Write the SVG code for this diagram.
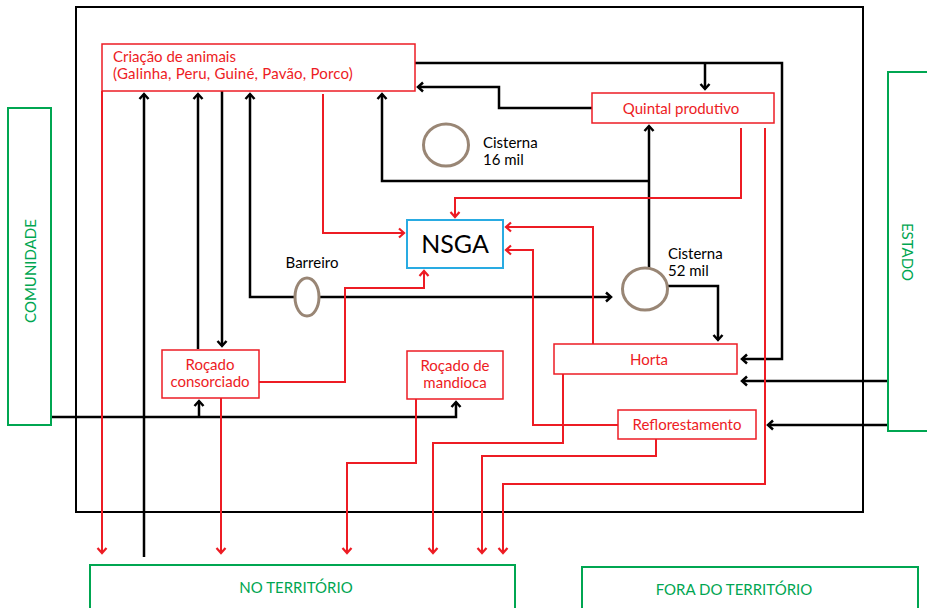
<svg xmlns="http://www.w3.org/2000/svg" width="927" height="608" viewBox="0 0 927 608">
<style>
.bk{fill:none;stroke:#000;stroke-width:2.5}
.rd{fill:none;stroke:#ed1c24;stroke-width:2}
.box{fill:#fff;stroke:#ed1c24;stroke-width:1.5}
.gbox{fill:#fff;stroke:#00a651;stroke-width:2}
.t{font-family:Lato,"Liberation Sans",sans-serif;font-size:15px}
.rt{fill:#ed1c24}
.gt{fill:#00a651}
.cis{fill:#fff;stroke:#998675;stroke-width:3}
</style>
<defs>
<marker id="ab" viewBox="-7 -6 9 12" refX="0" refY="0" markerWidth="9" markerHeight="12" markerUnits="userSpaceOnUse" orient="auto-start-reverse"><path d="M-5,-4.5 L0,0 L-5,4.5" fill="none" stroke="#000" stroke-width="2.5"/></marker>
<marker id="ar" viewBox="-7 -6 9 12" refX="0" refY="0" markerWidth="9" markerHeight="12" markerUnits="userSpaceOnUse" orient="auto"><path d="M-5,-4.5 L0,0 L-5,4.5" fill="none" stroke="#ed1c24" stroke-width="2.2"/></marker>
</defs>
<rect x="0" y="0" width="927" height="608" fill="#fff"/>
<rect x="76" y="7" width="787" height="505" fill="none" stroke="#000" stroke-width="2"/>

<g id="connectors">
<path class="bk" d="M144,557 V94" marker-end="url(#ab)"/>
<path class="bk" d="M198,349 V94" marker-end="url(#ab)"/>
<path class="bk" d="M222,91 V346" marker-end="url(#ab)"/>
<path class="bk" d="M250,94 V297 H611" marker-start="url(#ab)" marker-end="url(#ab)"/>
<path class="bk" d="M649,268 V126" marker-end="url(#ab)"/>
<path class="bk" d="M649,181 H382 V94" marker-end="url(#ab)"/>
<path class="bk" d="M415,63 H782 V359 H742" marker-end="url(#ab)"/>
<path class="bk" d="M705,63 V89" marker-end="url(#ab)"/>
<path class="bk" d="M592,108 H499 V87 H418" marker-end="url(#ab)"/>
<path class="bk" d="M668,286 H718 V340" marker-end="url(#ab)"/>
<path class="bk" d="M888,381 H742" marker-end="url(#ab)"/>
<path class="bk" d="M888,425 H768" marker-end="url(#ab)"/>
<path class="bk" d="M51,417 H456 V402" marker-end="url(#ab)"/>
<path class="bk" d="M199,417 V401" marker-end="url(#ab)"/>

<path class="rd" d="M102,91 V553" marker-end="url(#ar)"/>
<path class="rd" d="M323,94 V233 H404" marker-end="url(#ar)"/>
<path class="rd" d="M741,128 V198 H455 V217" marker-end="url(#ar)"/>
<path class="rd" d="M765,128 V484 H503 V553" marker-end="url(#ar)"/>
<path class="rd" d="M593,344 V227 H506" marker-end="url(#ar)"/>
<path class="rd" d="M618,425 H533 V250 H506" marker-end="url(#ar)"/>
<path class="rd" d="M259,382 H345 V288 H424 V271" marker-end="url(#ar)"/>
<path class="rd" d="M221,398 V553" marker-end="url(#ar)"/>
<path class="rd" d="M416,399 V463 H347 V553" marker-end="url(#ar)"/>
<path class="rd" d="M563,374 V443 H433 V553" marker-end="url(#ar)"/>
<path class="rd" d="M656,439 V456 H482 V553" marker-end="url(#ar)"/>
</g>

<g id="criacao">
<rect class="box" x="102" y="44" width="313" height="47"/>
<text class="t rt" x="113" y="62">Criação de animais</text>
<text class="t rt" x="113" y="79" letter-spacing="0.2">(Galinha, Peru, Guiné, Pavão, Porco)</text>
</g>
<g id="quintal">
<rect class="box" x="592" y="93" width="182" height="30"/>
<text class="t rt" x="681" y="114" text-anchor="middle">Quintal produtivo</text>
</g>
<g id="cisterna16">
<ellipse class="cis" cx="446" cy="145" rx="22.5" ry="21"/>
<text class="t" x="483" y="148" font-size="14">Cisterna</text>
<text class="t" x="483" y="165" font-size="14">16 mil</text>
</g>
<g id="nsga">
<rect x="407" y="220" width="96" height="48" fill="#fff" stroke="#29abe2" stroke-width="2"/>
<text x="455" y="253" text-anchor="middle" font-family="Lato,'Liberation Sans',sans-serif" font-size="25">NSGA</text>
</g>
<g id="barreiro">
<ellipse class="cis" cx="307" cy="297" rx="12" ry="19"/>
<text class="t" x="312" y="268" text-anchor="middle" font-size="14">Barreiro</text>
</g>
<g id="cisterna52">
<ellipse class="cis" cx="645" cy="289" rx="22.5" ry="21"/>
<text class="t" x="668" y="259" font-size="14">Cisterna</text>
<text class="t" x="668" y="276" font-size="14">52 mil</text>
</g>
<g id="rocado-consorciado">
<rect class="box" x="162" y="350" width="97" height="48"/>
<text class="t rt" x="210" y="370" text-anchor="middle">Roçado</text>
<text class="t rt" x="210" y="387" text-anchor="middle">consorciado</text>
</g>
<g id="rocado-mandioca">
<rect class="box" x="407" y="351" width="96" height="48"/>
<text class="t rt" x="455" y="371" text-anchor="middle">Roçado de</text>
<text class="t rt" x="455" y="388" text-anchor="middle">mandioca</text>
</g>
<g id="horta">
<rect class="box" x="554" y="344" width="183" height="30"/>
<text class="t rt" x="649" y="365" text-anchor="middle">Horta</text>
</g>
<g id="reflorestamento">
<rect class="box" x="618" y="410" width="138" height="29"/>
<text class="t rt" x="687" y="430" text-anchor="middle">Reflorestamento</text>
</g>
<g id="comunidade">
<rect class="gbox" x="8" y="108" width="43" height="317"/>
<text class="t gt" transform="translate(36,271) rotate(-90)" text-anchor="middle">COMUNIDADE</text>
</g>
<g id="estado">
<rect class="gbox" x="888" y="72" width="45" height="359"/>
<text class="t gt" transform="translate(902,252) rotate(90)" text-anchor="middle">ESTADO</text>
</g>
<g id="no-territorio">
<rect class="gbox" x="90" y="565" width="425" height="48"/>
<text class="t gt" x="296" y="593" text-anchor="middle" font-size="16">NO TERRITÓRIO</text>
</g>
<g id="fora-territorio">
<rect class="gbox" x="582" y="567" width="336" height="48"/>
<text class="t gt" x="734" y="595" text-anchor="middle" font-size="16">FORA DO TERRITÓRIO</text>
</g>
</svg>
